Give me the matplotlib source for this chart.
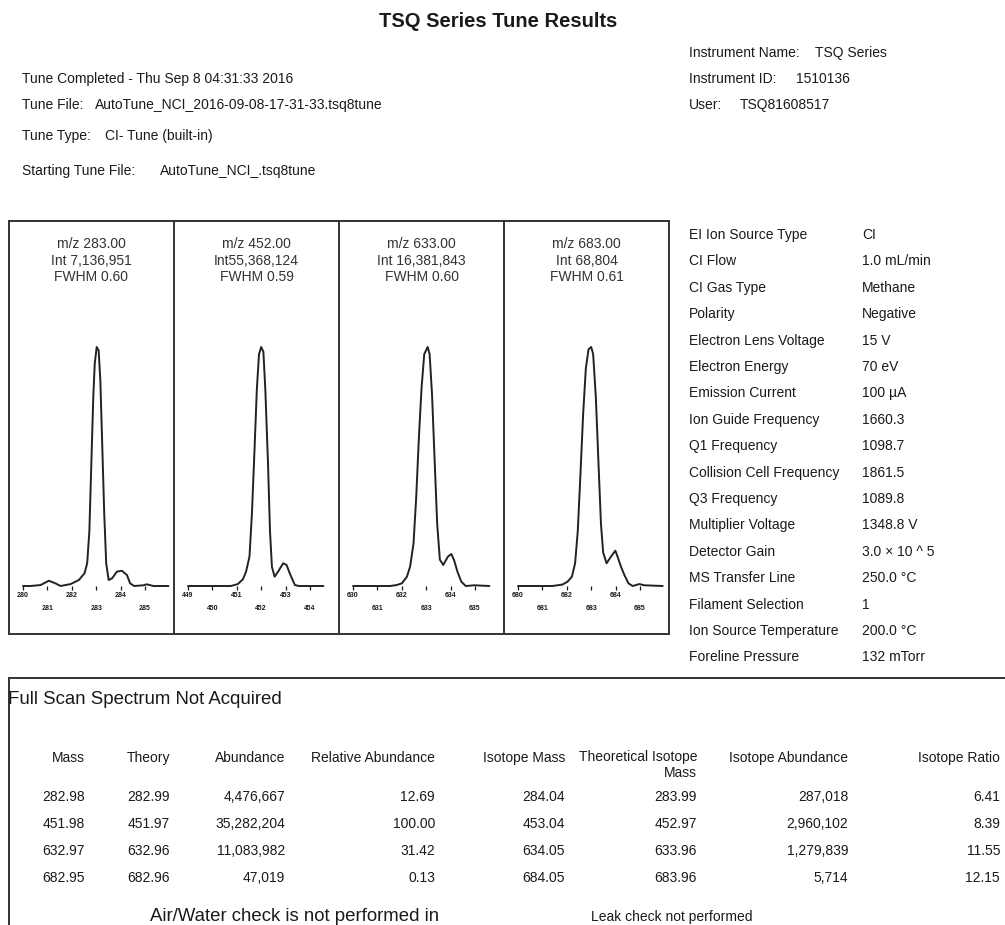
import matplotlib
matplotlib.use("Agg")
import matplotlib.pyplot as plt
from matplotlib.lines import Line2D

plt.rcParams["font.family"] = ["Liberation Sans", "DejaVu Sans"]

W_PX, H_PX = 1005, 925
INK = "#1a1a1a"

# ---- report header ----
TITLE = "TSQ Series Tune Results"
HEADER_LEFT = [
    ("Tune Completed - Thu Sep 8 04:31:33 2016", ""),
    ("Tune File:", "AutoTune_NCI_2016-09-08-17-31-33.tsq8tune"),
    ("Tune Type:", "CI- Tune (built-in)"),
    ("Starting Tune File:", "AutoTune_NCI_.tsq8tune"),
]
HEADER_RIGHT = [
    ("Instrument Name:", "TSQ Series"),
    ("Instrument ID:", "1510136"),
    ("User:", "TSQ81608517"),
]

# ---- peak panels (m/z, relative intensity %) ----
PEAK_LABELS = [
    ("m/z 283.00", "Int 7,136,951", "FWHM 0.60"),
    ("m/z 452.00", "Int55,368,124", "FWHM 0.59"),
    ("m/z 633.00", "Int 16,381,843", "FWHM 0.60"),
    ("m/z 683.00", "Int 68,804", "FWHM 0.61"),
]
AXIS_START = [280, 449, 630, 680]

mz_283 = [280.00, 280.31, 280.72, 281.06, 281.33, 281.54, 281.95, 282.29, 282.52, 282.63,
          282.72, 282.80, 282.88, 282.94, 283.02, 283.10, 283.17, 283.25, 283.33, 283.41,
          283.51, 283.65, 283.85, 284.05, 284.26, 284.39, 284.56, 284.94, 285.07, 285.35, 285.96]
int_283 = [0.0, 0.0, 0.4, 2.2, 1.1, 0.0, 0.8, 2.5, 5.3, 9.5,
           23.0, 51.0, 79.0, 93.0, 100.0, 98.6, 86.0, 58.0, 30.0, 9.5,
           2.5, 3.2, 6.0, 6.4, 4.6, 1.1, 0.0, 0.3, 0.7, 0.0, 0.0]

mz_452 = [449.00, 450.76, 451.04, 451.25, 451.38, 451.52, 451.62, 451.73, 451.82, 451.91,
          452.00, 452.09, 452.17, 452.28, 452.36, 452.44, 452.55, 452.69, 452.90, 453.04,
          453.17, 453.38, 453.55, 454.55]
int_452 = [0.0, 0.0, 0.8, 2.8, 6.0, 12.3, 30.4, 58.0, 82.0, 97.0,
           100.0, 98.0, 82.0, 51.0, 23.0, 8.0, 3.9, 6.0, 9.5, 8.8,
           5.3, 0.4, 0.0, 0.0]

mz_633 = [630.00, 631.52, 631.79, 632.00, 632.21, 632.34, 632.48, 632.59, 632.70, 632.81,
          632.92, 633.06, 633.14, 633.24, 633.34, 633.45, 633.56, 633.70, 633.89, 634.03,
          634.14, 634.28, 634.44, 634.62, 634.97, 635.59]
int_633 = [0.0, 0.0, 0.4, 1.1, 3.9, 8.1, 17.8, 37.0, 62.0, 83.0,
           97.0, 100.0, 97.0, 80.0, 54.0, 26.0, 11.0, 8.8, 12.3, 13.4,
           10.9, 6.0, 1.8, 0.0, 0.3, 0.0]

mz_683 = [680.00, 681.41, 681.82, 682.03, 682.21, 682.34, 682.45, 682.56, 682.67, 682.78,
          682.89, 683.00, 683.08, 683.19, 683.30, 683.40, 683.49, 683.63, 683.81, 683.99,
          684.08, 684.22, 684.36, 684.53, 684.70, 684.97, 685.18, 685.93]
int_683 = [0.0, 0.0, 0.6, 1.8, 3.9, 9.5, 23.0, 47.0, 72.0, 91.0,
           99.0, 100.0, 97.0, 79.0, 51.0, 26.0, 14.0, 9.5, 12.3, 14.8,
           12.3, 8.1, 4.6, 1.1, 0.0, 0.8, 0.3, 0.0]

PEAK_MZ = [mz_283, mz_452, mz_633, mz_683]
PEAK_INT = [int_283, int_452, int_633, int_683]

# ---- instrument parameters ----
PARAM_NAMES = ["EI Ion Source Type", "CI Flow", "CI Gas Type", "Polarity", "Electron Lens Voltage",
               "Electron Energy", "Emission Current", "Ion Guide Frequency", "Q1 Frequency",
               "Collision Cell Frequency", "Q3 Frequency", "Multiplier Voltage", "Detector Gain",
               "MS Transfer Line", "Filament Selection", "Ion Source Temperature", "Foreline Pressure"]
PARAM_VALUES = ["CI", "1.0 mL/min", "Methane", "Negative", "15 V", "70 eV", "100 \u00b5A", "1660.3",
                "1098.7", "1861.5", "1089.8", "1348.8 V", "3.0 \u00d7 10 ^ 5", "250.0 \u00b0C", "1",
                "200.0 \u00b0C", "132 mTorr"]

# ---- result table ----
TABLE_HEADERS = ["Mass", "Theory", "Abundance", "Relative Abundance", "Isotope Mass",
                 "Theoretical Isotope\nMass", "Isotope Abundance", "Isotope Ratio"]
mass = ["282.98", "451.98", "632.97", "682.95"]
theory = ["282.99", "451.97", "632.96", "682.96"]
abundance = ["4,476,667", "35,282,204", "11,083,982", "47,019"]
rel_abundance = ["12.69", "100.00", "31.42", "0.13"]
iso_mass = ["284.04", "453.04", "634.05", "684.05"]
theo_iso_mass = ["283.99", "452.97", "633.96", "683.96"]
iso_abundance = ["287,018", "2,960,102", "1,279,839", "5,714"]
iso_ratio = ["6.41", "8.39", "11.55", "12.15"]
TABLE_COLUMNS = [mass, theory, abundance, rel_abundance, iso_mass, theo_iso_mass, iso_abundance, iso_ratio]


def fx(x):
    return x / W_PX


def fy(y):
    return 1 - y / H_PX


def put(fig, x, y, s, **kw):
    # y is the visual centre of the capitals; place the baseline below it
    kw.setdefault("color", INK)
    kw.setdefault("fontsize", 10)
    size_px = kw["fontsize"] * 100 / 72
    if "va" not in kw:
        kw["va"] = "baseline"
        y = y + 0.36 * size_px
    fig.text(fx(x), fy(y), s, **kw)


def hline(fig, x0, x1, y, lw=1.4, color="#333333"):
    fig.add_artist(Line2D([fx(x0), fx(x1)], [fy(y), fy(y)], transform=fig.transFigure, lw=lw, color=color))


def vline(fig, x, y0, y1, lw=1.4, color="#333333"):
    fig.add_artist(Line2D([fx(x), fx(x)], [fy(y0), fy(y1)], transform=fig.transFigure, lw=lw, color=color))


fig = plt.figure(figsize=(W_PX / 100, H_PX / 100), dpi=100, facecolor="white")

# header
put(fig, 498, 20, TITLE, fontsize=14.5, fontweight="bold", ha="center")
left_rows_y = [78, 104, 135, 170]
left_value_x = [None, 95, 105, 160]
for (label, value), y, vx in zip(HEADER_LEFT, left_rows_y, left_value_x):
    put(fig, 22, y, label)
    if value:
        put(fig, vx, y, value)
right_rows_y = [52, 78, 104]
right_value_x = [815, 796, 740]
for (label, value), y, vx in zip(HEADER_RIGHT, right_rows_y, right_value_x):
    put(fig, 689, y, label)
    put(fig, vx, y, value)

# peak panels
panel_edges = [9, 174, 339, 504, 669]
box_top, box_bottom = 221, 634
hline(fig, panel_edges[0], panel_edges[-1], box_top)
hline(fig, panel_edges[0], panel_edges[-1], box_bottom)
for xe in panel_edges:
    vline(fig, xe, box_top, box_bottom)

baseline_px, top_px = 586, 347
ppu = 24.4
for i in range(4):
    left, right = panel_edges[i] + 1, panel_edges[i + 1] - 1
    ax = fig.add_axes([fx(left), fy(baseline_px), fx(right - left), (baseline_px - top_px) / H_PX])
    start = AXIS_START[i]
    x_lo = start - (14 - 1) / ppu
    ax.set_xlim(x_lo, x_lo + (right - left) / ppu)
    ax.set_ylim(0, 100)
    ax.plot(PEAK_MZ[i], PEAK_INT[i], color="#222222", lw=1.4, clip_on=False,
            solid_joinstyle="round", solid_capstyle="round")
    for sp in ax.spines.values():
        sp.set_visible(False)
    ax.set_yticks([])
    major = [start, start + 2, start + 4]
    minor = [start + 1, start + 3, start + 5]
    ax.set_xticks(major, [str(v) for v in major])
    ax.set_xticks(minor, [str(v) for v in minor], minor=True)
    ax.tick_params(axis="x", which="major", length=3, width=0.9, pad=1.0, labelsize=5, colors=INK)
    ax.tick_params(axis="x", which="minor", length=3, width=0.9, pad=10.5, labelsize=5, colors=INK)
    for lab in ax.get_xticklabels(which="both"):
        lab.set_fontweight("bold")
    ax.patch.set_alpha(0)

    cx = (panel_edges[i] + panel_edges[i + 1]) / 2
    for line, y in zip(PEAK_LABELS[i], [243, 260, 276]):
        put(fig, cx, y, line, fontsize=10, ha="center", color="#333333")

# parameter list
for k, (name, value) in enumerate(zip(PARAM_NAMES, PARAM_VALUES)):
    y = 234 + k * 26.4
    put(fig, 689, y, name)
    put(fig, 862, y, value)

# lower section
hline(fig, 9, 1005, 678)
vline(fig, 9, 678, 925)
put(fig, 8, 697, "Full Scan Spectrum Not Acquired", fontsize=13.4)

col_right = [85, 170, 285, 435, 565, 697, 848, 1000]
for xr, head, values in zip(col_right, TABLE_HEADERS, TABLE_COLUMNS):
    if "\n" in head:
        put(fig, xr, 750, head, ha="right", va="top", linespacing=1.15)
    else:
        put(fig, xr, 757, head, ha="right")
    for r, v in enumerate(values):
        put(fig, xr, 796 + r * 27, v, ha="right")

put(fig, 295, 914, "Air/Water check is not performed in", fontsize=13.4, ha="center")
put(fig, 672, 916, "Leak check not performed", fontsize=10, ha="center")

fig.savefig("out.png", dpi=100, facecolor="white")
